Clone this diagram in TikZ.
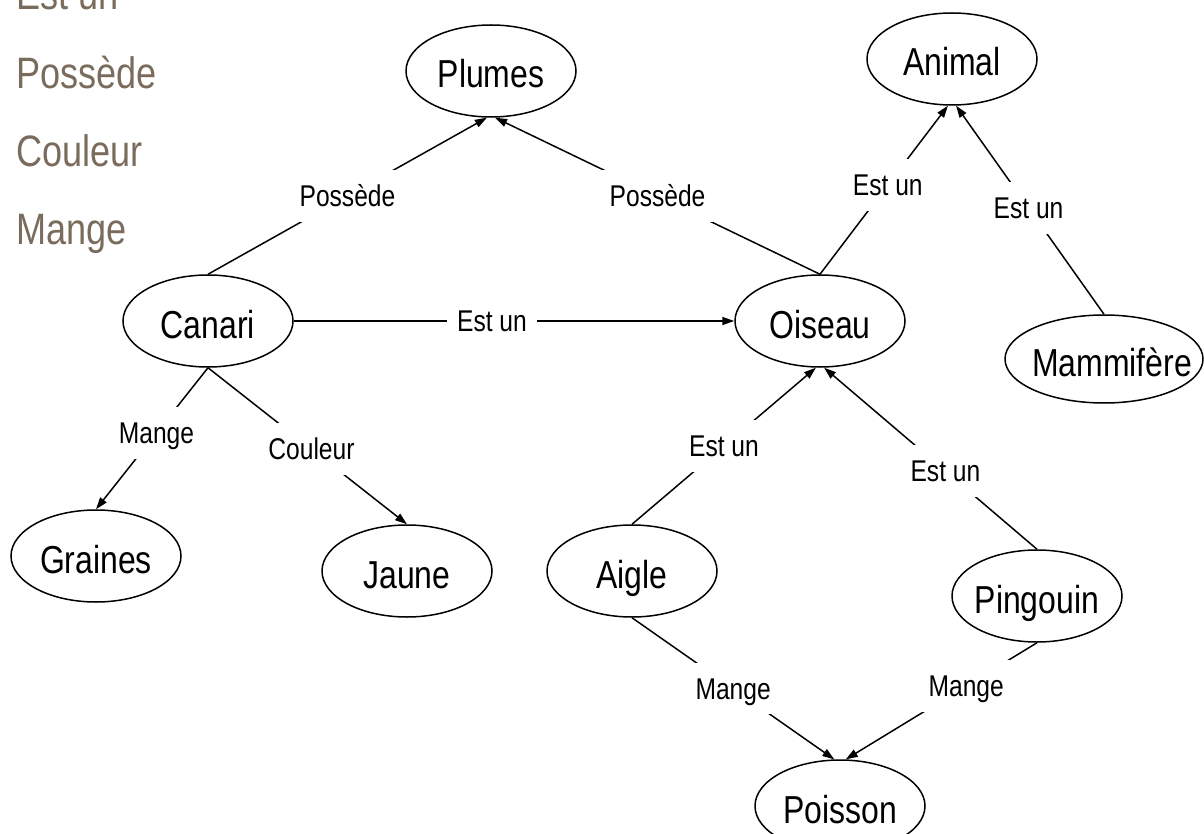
\documentclass[tikz,border=0pt]{standalone}
\usepackage{fontspec}
\setmainfont[FakeStretch=0.82]{Liberation Sans}
\usetikzlibrary{shapes.geometric,arrows.meta}
\definecolor{legendcol}{RGB}{122,108,92}
\newcommand{\ntext}[1]{\makebox[0pt]{#1}}
\begin{document}
\begin{tikzpicture}[x=1pt,y=-1pt,
  concept/.style={ellipse,draw,line width=1.5pt,inner sep=0pt,minimum width=170pt,minimum height=92pt,
    font=\fontsize{39}{40}\selectfont,text height=34pt,text depth=0pt},
  rel/.style={fill=white,inner xsep=10pt,inner ysep=15pt,font=\fontsize{30}{32}\selectfont,
    text height=21.5pt,text depth=0pt},
  arr/.style={line width=1.5pt,-{Triangle[length=12pt,width=8pt]}},
  legend/.style={anchor=base west,inner sep=0pt,text=legendcol,font=\fontsize{44}{46}\selectfont}]
\useasboundingbox (0,0) rectangle (1204,834);

% legend
\node[legend] (leg1) at (16,10) {Est un};
\node[legend] (leg2) at (16,89) {Possède};
\node[legend] (leg3) at (16,167) {Couleur};
\node[legend] (leg4) at (16,245) {Mange};

% concepts
\node[concept] (plumes) at (491,71) {\ntext{Plumes}};
\node[concept] (animal) at (952,59) {\ntext{Animal}};
\node[concept] (canari) at (208,321) {\ntext{Canari}};
\node[concept] (oiseau) at (820,321) {\ntext{Oiseau}};
\node[concept,minimum width=198pt,minimum height=88pt] (mammifere) at (1104,359) {\ntext{\hspace{16pt}Mammifère}};
\node[concept] (graines) at (96,556) {\ntext{Graines}};
\node[concept] (jaune) at (407,571) {\ntext{Jaune}};
\node[concept] (aigle) at (632,571) {\ntext{Aigle}};
\node[concept] (pingouin) at (1037,596) {\ntext{Pingouin}};
\node[concept] (poisson) at (840,806) {\ntext{Poisson}};

% relations
\draw[arr] (canari.north) -- node[rel,pos=0.5] (r1) {Possède} (plumes.265);
\draw[arr] (oiseau.north) -- node[rel,pos=0.5] (r2) {Possède} (plumes.275);
\draw[arr] (canari.east) -- node[rel,pos=0.45] (r3) {Est un} (oiseau.west);
\draw[arr] (oiseau.north) -- node[rel,pos=0.53] (r4) {Est un} (animal.265);
\draw[arr] (mammifere.north) -- node[rel,pos=0.51] (r5) {Est un} (animal.275);
\draw[arr] (canari.south) -- node[rel,pos=0.46] (r6) {Mange} (graines.north);
\draw[arr] (canari.south) -- node[rel,pos=0.52] (r7) {Couleur} (jaune.north);
\draw[arr] (aigle.north) -- node[rel,pos=0.5] (r8) {Est un} (oiseau.265);
\draw[arr] (pingouin.north) -- node[rel,pos=0.43] (r9) {Est un} (oiseau.275);
\draw[arr] (aigle.south) -- node[rel,pos=0.5] (r10) {Mange} (poisson.97);
\draw[arr] (pingouin.south) -- node[rel,pos=0.37] (r11) {Mange} (poisson.83);
\end{tikzpicture}
\end{document}
